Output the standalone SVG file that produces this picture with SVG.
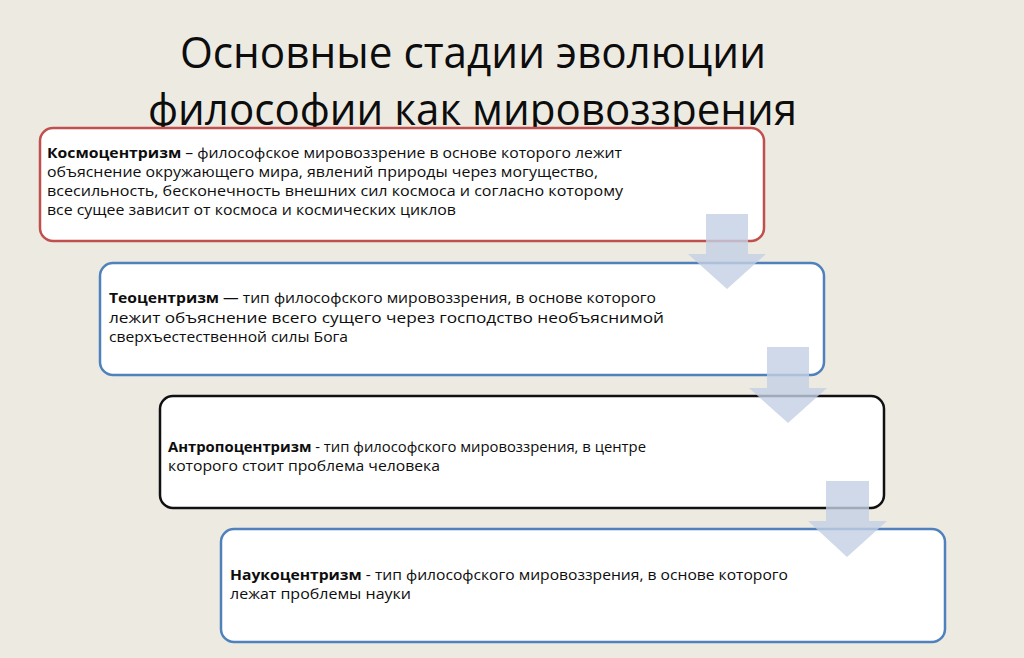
<svg xmlns="http://www.w3.org/2000/svg" width="1024" height="658" viewBox="0 0 1024 658">
<style>
.title{font-family:"Open Sans","Noto Sans","DejaVu Sans",sans-serif;font-size:43px;fill:#0d0d0d;text-anchor:start}
.t{font-family:"Open Sans","Noto Sans","DejaVu Sans",sans-serif;font-size:15px;fill:#0d0d0d}
.b{font-weight:bold}
.box{fill:#fff;stroke-width:2.5}
.arrow{fill:#C3CFE4;fill-opacity:0.8}
</style>
<rect x="0" y="0" width="1024" height="658" fill="#EDEAE2"/>
<g id="title">
<text class="title" x="180" y="68" textLength="586" lengthAdjust="spacingAndGlyphs">Основные стадии эволюции</text>
<text class="title" x="148" y="125" textLength="649" lengthAdjust="spacingAndGlyphs">философии как мировоззрения</text>
</g>
<g id="node-cosmocentrism">
<rect class="box" x="40" y="128" width="724" height="113" rx="13" stroke="#C0504D"/>
<text class="t" x="47" y="158" textLength="575" lengthAdjust="spacingAndGlyphs"><tspan class="b">Космоцентризм</tspan> – философское мировоззрение в основе которого лежит</text>
<text class="t" x="47" y="177" textLength="551" lengthAdjust="spacingAndGlyphs">объяснение окружающего мира, явлений природы через могущество,</text>
<text class="t" x="47" y="196" textLength="576" lengthAdjust="spacingAndGlyphs">всесильность, бесконечность внешних сил космоса и согласно которому</text>
<text class="t" x="47" y="215" textLength="409" lengthAdjust="spacingAndGlyphs">все сущее зависит от космоса и космических циклов</text>
</g>
<g id="node-theocentrism">
<rect class="box" x="100" y="263" width="724" height="112" rx="13" stroke="#4F81BD"/>
<text class="t" x="109" y="303" textLength="547" lengthAdjust="spacingAndGlyphs"><tspan class="b">Теоцентризм</tspan> — тип философского мировоззрения, в основе которого</text>
<text class="t" x="109" y="323" textLength="555" lengthAdjust="spacingAndGlyphs">лежит объяснение всего сущего через господство необъяснимой</text>
<text class="t" x="109" y="342" textLength="239" lengthAdjust="spacingAndGlyphs">сверхъестественной силы Бога</text>
</g>
<g id="node-anthropocentrism">
<rect class="box" x="160" y="396" width="724" height="112" rx="13" stroke="#111"/>
<text class="t" x="168" y="452" textLength="478" lengthAdjust="spacingAndGlyphs"><tspan class="b">Антропоцентризм</tspan> - тип философского мировоззрения, в центре</text>
<text class="t" x="168" y="471" textLength="272" lengthAdjust="spacingAndGlyphs">которого стоит проблема человека</text>
</g>
<g id="node-sciencecentrism">
<rect class="box" x="221" y="529" width="724" height="113" rx="13" stroke="#4F81BD"/>
<text class="t" x="230" y="580" textLength="558" lengthAdjust="spacingAndGlyphs"><tspan class="b">Наукоцентризм</tspan> - тип философского мировоззрения, в основе которого</text>
<text class="t" x="230" y="599" textLength="181" lengthAdjust="spacingAndGlyphs">лежат проблемы науки</text>
</g>
<g id="connectors">
<polygon class="arrow" points="706,214 748,214 748,254 766,254 727,289 688,254 706,254"/>
<polygon class="arrow" points="767,347 809,347 809,388 827,388 788,423 749,388 767,388"/>
<polygon class="arrow" points="826,481 869,481 869,521 887,521 847,557 808,521 826,521"/>
</g>
</svg>
